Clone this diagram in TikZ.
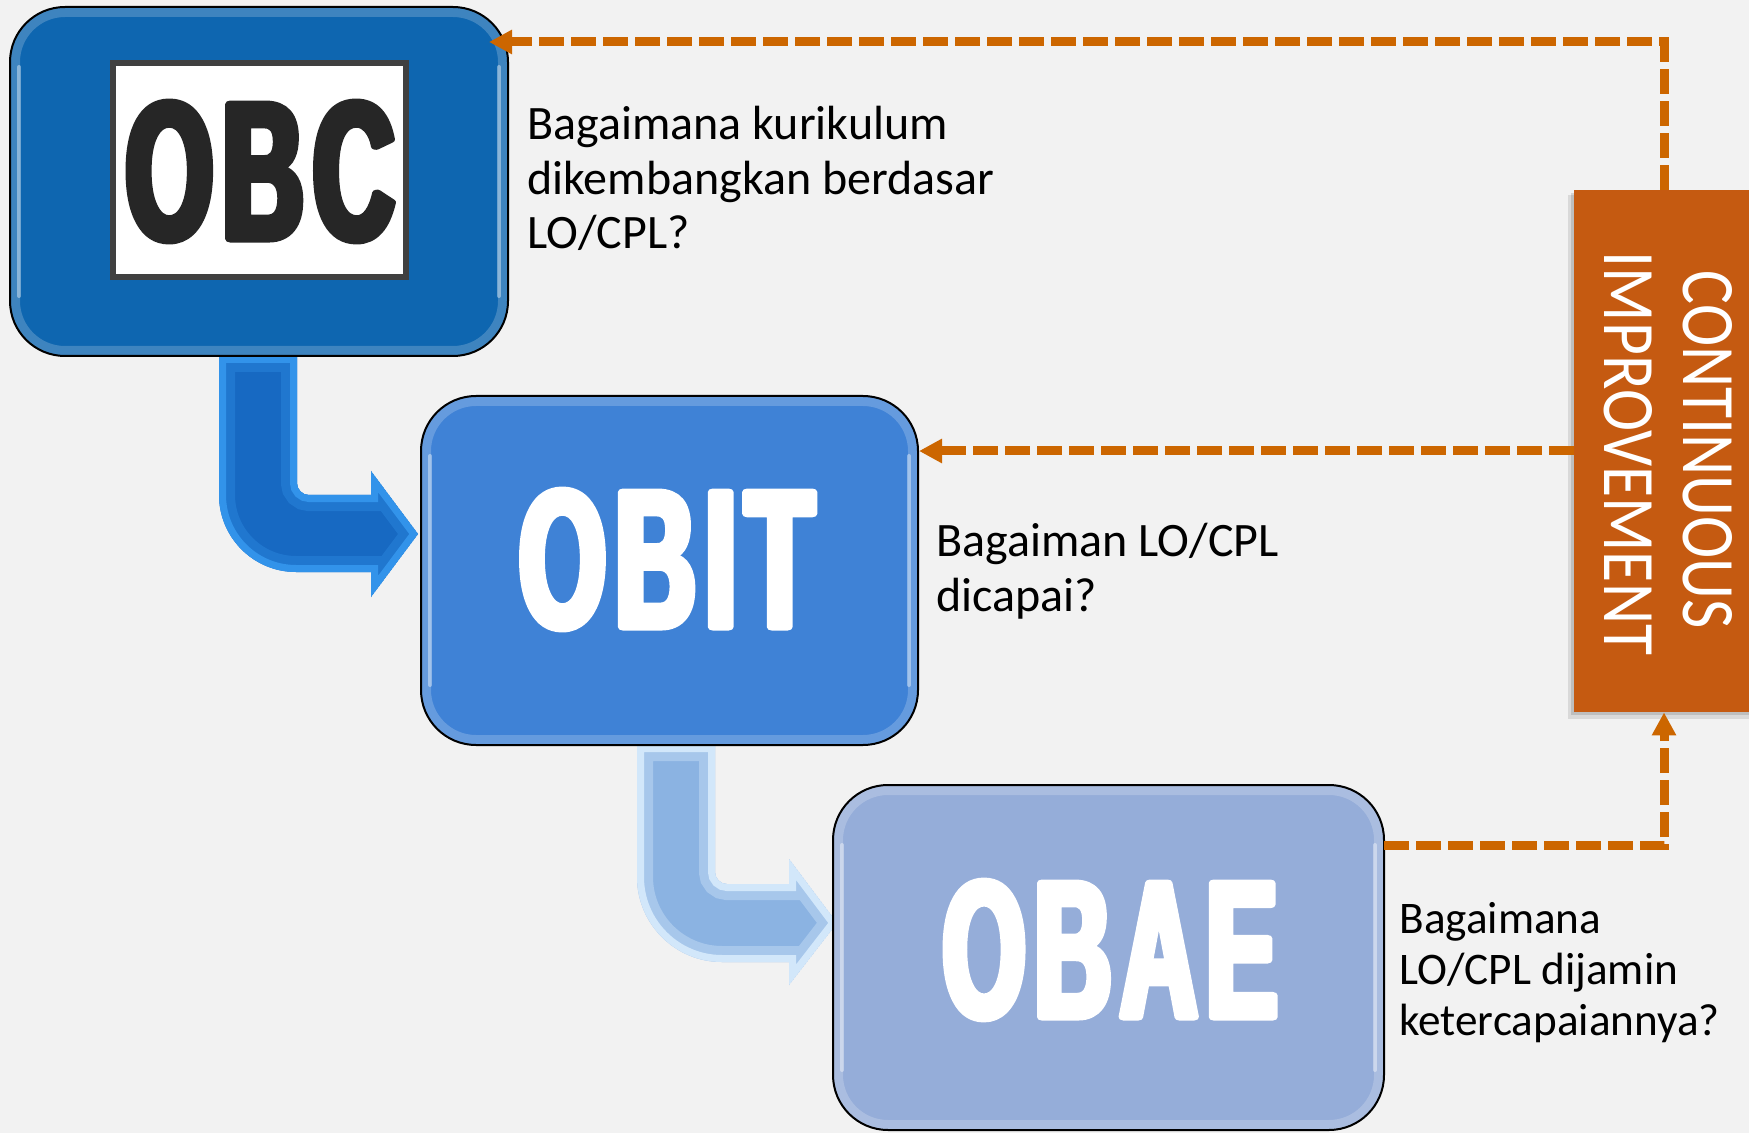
\documentclass[tikz,border=0pt]{standalone}
\usepackage{fontspec}
\usepackage{graphicx}
\setmainfont{Carlito}
\newfontfamily\heavyfont{Liberation Sans Bold}[FakeStretch=0.4, FakeBold=3.5]
\usetikzlibrary{arrows.meta}
\definecolor{bgcol}{HTML}{F2F2F2}
\definecolor{obcfill}{HTML}{0E66B0}
\definecolor{obitfill}{HTML}{3F82D6}
\definecolor{obaefill}{HTML}{95ADD9}
\definecolor{ciorange}{HTML}{C55A11}
\definecolor{dashorange}{HTML}{CC6600}
\definecolor{framegray}{HTML}{404040}
\definecolor{obctext}{HTML}{262626}
\definecolor{aonefill}{HTML}{1769C2}
\definecolor{aoneedge}{HTML}{3293EA}
\definecolor{atwofill}{HTML}{8BB3E2}
\definecolor{atwoedge}{HTML}{D2E7FA}
\def\arrowOne{(219,356) -- (219,495) arc[start angle=180, end angle=90, radius=77] -- (371,572) -- (371,597) -- (418,534) -- (371,471) -- (371,495) -- (309,495) arc[start angle=90, end angle=180, radius=12] -- (297,356) -- cycle}
\def\arrowTwo{(637,745) -- (637,877) arc[start angle=180, end angle=90, radius=85] -- (789,962) -- (789,985) -- (837,923) -- (789,859) -- (789,884) -- (727,884) arc[start angle=90, end angle=180, radius=12] -- (715,745) -- cycle}
\newcommand{\lsp}{\kern0.035em}
\begin{document}
\begin{tikzpicture}[x=0.5pt, y=-0.5pt,
  stagebox/.style={draw=black, line width=1pt, rounded corners=27.5pt, inner sep=0pt,
    path picture={
      \draw[white, opacity=0.2, line width=10pt, rounded corners=27.5pt]
        (path picture bounding box.south west) rectangle (path picture bounding box.north east);
      \draw[white, opacity=0.4, line width=2pt, line cap=round]
        ([xshift=4.5pt,yshift=-30pt]path picture bounding box.north west) -- ([xshift=4.5pt,yshift=30pt]path picture bounding box.south west);
      \draw[white, opacity=0.4, line width=2pt, line cap=round]
        ([xshift=-4.5pt,yshift=-30pt]path picture bounding box.north east) -- ([xshift=-4.5pt,yshift=30pt]path picture bounding box.south east);
    }},
  biglabel/.style={inner sep=0pt, font=\heavyfont, line join=round},
  qtext/.style={anchor=base west, inner sep=0pt, text=black},
  feedback/.style={draw=dashorange, line width=4.5pt, dash pattern=on 12.5pt off 3.5pt,
    -{Triangle[length=11.5pt, width=11.5pt]}},
  citext/.style={rotate=-90, inner sep=0pt, text=white}
]
\useasboundingbox (0,0) rectangle (1749,1133);
\fill[bgcol] (0,0) rectangle (1749,1133);

% bent block arrows
\begin{scope}
  \clip \arrowOne;
  \fill[aonefill] \arrowOne;
  \draw[aoneedge, opacity=0.35, line width=16pt] \arrowOne;
  \draw[aoneedge, line width=7pt] \arrowOne;
\end{scope}
\begin{scope}
  \clip \arrowTwo;
  \fill[atwofill] \arrowTwo;
  \draw[atwoedge, opacity=0.4, line width=16pt] \arrowTwo;
  \draw[atwoedge, line width=7pt] \arrowTwo;
\end{scope}

% stage boxes
\node[stagebox, fill=obcfill, minimum width=249pt, minimum height=174.5pt] (obc) at (259,181.5) {};
\node[draw=framegray, line width=3pt, fill=white, minimum width=146.5pt, minimum height=107pt, inner sep=0pt] (obcframe) at (259.5,170) {};
\node[biglabel, text=obctext] (obclabel) at (260,171.5) {\resizebox{134pt}{68.5pt}{O\lsp B\lsp C}};

\node[stagebox, fill=obitfill, minimum width=248.5pt, minimum height=174.5pt] (obit) at (669.5,570.5) {};
\node[biglabel, text=white] (obitlabel) at (666.5,559.5) {\resizebox{147pt}{68.5pt}{O\lsp B\lsp I\lsp T}};

\node[stagebox, fill=obaefill, minimum width=275.5pt, minimum height=172.5pt] (obae) at (1108.5,957.5) {};
\node[biglabel, text=white] (obaelabel) at (1110,950) {\resizebox{167pt}{68pt}{O\lsp B\lsp A\lsp E}};

% questions
\node[qtext, font=\fontsize{24pt}{27.25pt}\selectfont] (q1) at (527,140)
  {\begin{tabular}[t]{@{}l@{}}Bagaimana kurikulum\\dikembangkan berdasar\\LO/CPL?\end{tabular}};
\node[qtext, font=\fontsize{24pt}{27.5pt}\selectfont] (q2) at (936,556)
  {\begin{tabular}[t]{@{}l@{}}Bagaiman LO/CPL\\dicapai?\end{tabular}};
\node[qtext, font=\fontsize{22.6pt}{25.7pt}\selectfont] (q3) at (1399,933)
  {\begin{tabular}[t]{@{}l@{}}Bagaimana\\LO/CPL dijamin\\ketercapaiannya?\end{tabular}};

% continuous improvement bar
\fill[black, opacity=0.10] (1568,195) rectangle (1760,719);
\fill[black, opacity=0.12] (1571,193) rectangle (1760,715);
\node[fill=ciorange, minimum width=90pt, minimum height=261pt, inner sep=0pt] (ci) at (1664,451) {};
\node[citext] (cont) at (1707.5,450) {\resizebox{179pt}{24.5pt}{CONTINUOUS}};
\node[citext] (impr) at (1628,453.5) {\resizebox{201.5pt}{24pt}{IMPROVEMENT}};

% feedback connectors
\coordinate (topend) at (489,42);
\coordinate (obaeout) at (1384,845);
\draw[feedback] (ci.north) |- (topend);
\draw[feedback] (ci.west) -- (ci.west -| obit.east);
\draw[feedback] (obaeout) -| (ci.south);
\end{tikzpicture}
\end{document}
